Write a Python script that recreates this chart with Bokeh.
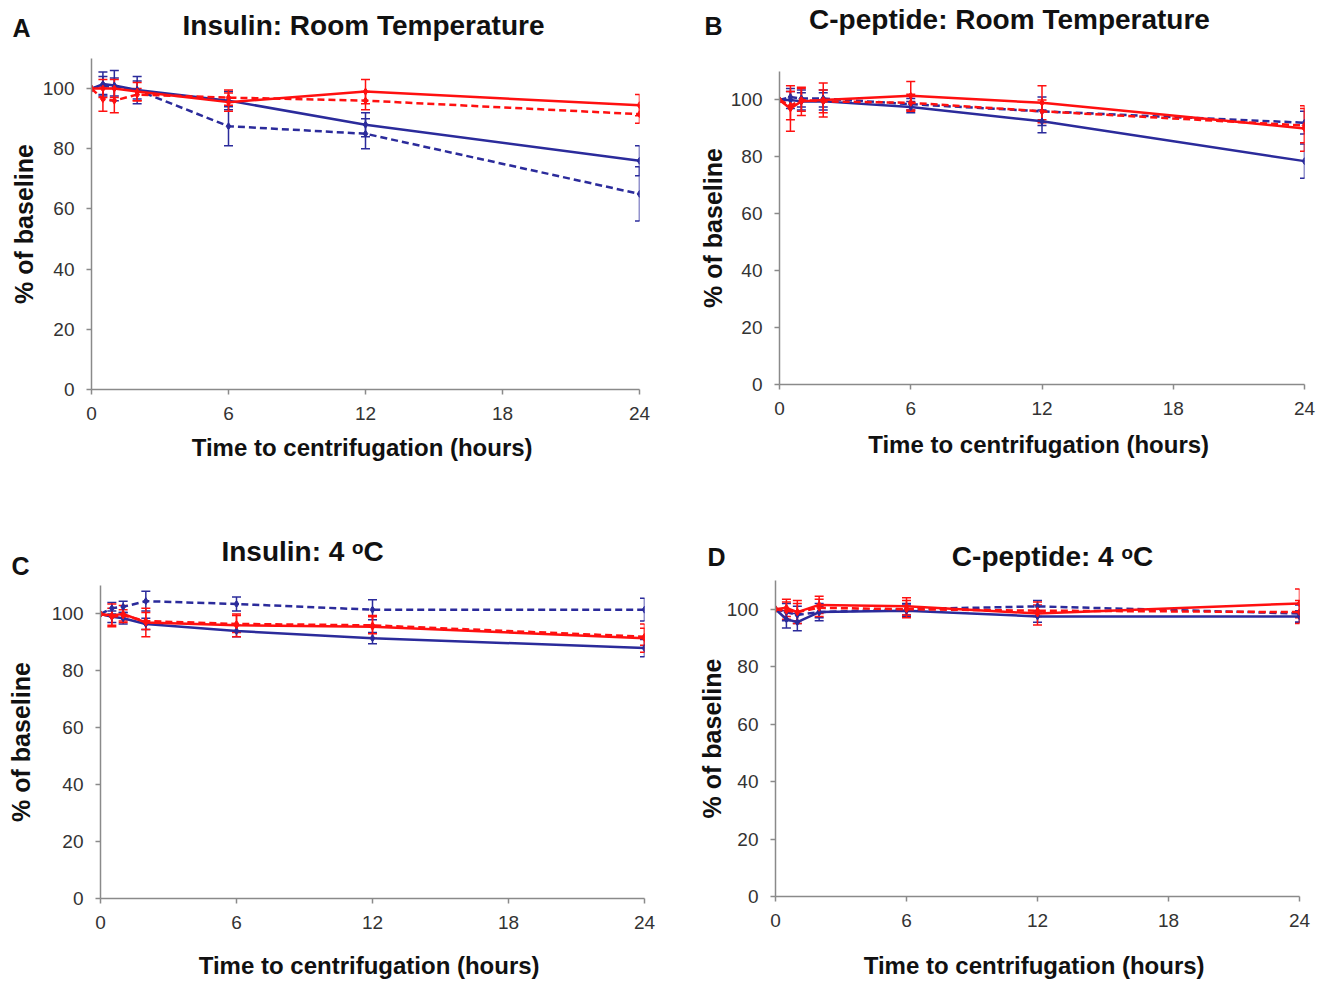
from bokeh.plotting import figure
from bokeh.layouts import column, row
from bokeh.models import ColumnDataSource, Whisker, TeeHead, Label, Range1d, FixedTicker
from bokeh.embed import file_html
from bokeh.resources import INLINE

# ---------------- data ----------------
hours = [0, 0.5, 1, 2, 6, 12, 24]
x_ticks = [0, 6, 12, 18, 24]
y_ticks = [0, 20, 40, 60, 80, 100]

# A: Insulin, room temperature
a_blue_solid = [100, 101.5, 101, 99.5, 96, 88, 76]
a_blue_solid_err = [0, 4, 5, 4.5, 3, 4, 5]
a_blue_dash = [100, 101, 100.5, 99.5, 87.5, 85, 65]
a_blue_dash_err = [0, 3, 3, 3, 6.5, 5, 9]
a_red_solid = [100, 100, 100, 99, 95.5, 99, 94.5]
a_red_solid_err = [0, 3, 3, 3, 3, 4, 3.5]
a_red_dash = [100, 96.5, 96, 98, 97, 96, 91.5]
a_red_dash_err = [0, 4, 4, 2, 2.5, 3, 3]

# B: C-peptide, room temperature
b_blue_solid = [100, 100, 99.5, 99.5, 97.5, 92.5, 78.5]
b_blue_solid_err = [0, 3, 3, 3, 2, 4, 6]
b_blue_dash = [100, 101, 100.5, 100.5, 98.5, 96, 92]
b_blue_dash_err = [0, 3, 3, 3, 2, 5, 4]
b_red_solid = [100, 97, 99.5, 100, 101.5, 99, 90]
b_red_solid_err = [0, 8, 5, 6, 5, 6, 8]
b_red_dash = [100, 98, 100, 99.5, 99, 96, 91]
b_red_dash_err = [0, 5, 4, 4, 3, 4, 6]

# C: Insulin, 4 C
c_blue_solid = [100, 99, 98.5, 96.5, 94, 91.5, 88]
c_blue_solid_err = [0, 2, 2, 2, 2, 2, 3]
c_blue_dash = [100, 102, 102.5, 104.5, 103.5, 101.5, 101.5]
c_blue_dash_err = [0, 2, 2, 3.5, 2.5, 3.5, 4]
c_red_solid = [100, 99.5, 100, 97, 96, 95.5, 91.5]
c_red_solid_err = [0, 4, 3, 5, 4, 4, 5]
c_red_dash = [100, 99, 99.5, 97.5, 96.5, 96, 92]
c_red_dash_err = [0, 3, 2, 3, 3, 3, 3]

# D: C-peptide, 4 C
d_blue_solid = [100, 96.5, 95.5, 99, 99.5, 97.5, 97.5]
d_blue_solid_err = [0, 3, 3, 2, 2, 2, 2]
d_blue_dash = [100, 99, 98, 99, 100, 101, 98.5]
d_blue_dash_err = [0, 3, 3, 3, 2, 2, 3]
d_red_solid = [100, 100.5, 99, 101.5, 101, 98.5, 102]
d_red_solid_err = [0, 3, 4, 3, 3, 4, 5]
d_red_dash = [100, 99.5, 99, 100.5, 100, 99.5, 99]
d_red_dash_err = [0, 3, 3, 3, 3, 2, 4]

titles = ["Insulin: Room Temperature", "C-peptide: Room Temperature",
          "Insulin:  4 \u1d52C", "C-peptide: 4 \u1d52C"]
letters = ["A", "B", "C", "D"]
x_label = "Time to centrifugation  (hours)"
y_label = "% of baseline"

# ---------------- style ----------------
BLUE = "#2b2b9b"
RED = "#ff1010"
AXIS = "#8a8a8a"
TXT = "#333333"
FONT = "Liberation Sans"
TOTAL_W = 1320


def make_panel(series, W, H, bl, br, bt, bb, xl_standoff, yl_standoff):
    p = figure(width=W, height=H, min_border_left=bl, min_border_right=br,
               min_border_top=bt, min_border_bottom=bb,
               x_range=Range1d(0, 24), y_range=Range1d(0, 110),
               output_backend="svg", toolbar_location=None, tools="")
    p.outline_line_color = None
    p.grid.visible = False

    for ax in (p.xaxis[0], p.yaxis[0]):
        ax.axis_line_color = AXIS
        ax.axis_line_width = 1.5
        ax.major_tick_line_color = AXIS
        ax.major_tick_line_width = 1.5
        ax.major_tick_out = 5
        ax.major_tick_in = 0
        ax.minor_tick_line_color = None
        ax.major_label_text_font = FONT
        ax.major_label_text_font_size = "19px"
        ax.major_label_text_color = TXT
        ax.axis_label_text_font = FONT
        ax.axis_label_text_font_style = "bold"
        ax.axis_label_text_color = "#111111"
    p.xaxis.axis_label_text_font_size = "24px"
    p.yaxis.axis_label_text_font_size = "25px"
    p.xaxis.ticker = FixedTicker(ticks=x_ticks)
    p.yaxis.ticker = FixedTicker(ticks=y_ticks)
    p.xaxis.major_label_standoff = 12
    p.yaxis.major_label_standoff = 12
    p.xaxis.axis_label = x_label
    p.yaxis.axis_label = y_label
    p.xaxis.axis_label_standoff = xl_standoff
    p.yaxis.axis_label_standoff = yl_standoff

    for vals, errs, color, dash in series:
        p.line(hours, vals, line_color=color, line_width=2.5, line_dash=dash)
        xs = [h for h, e in zip(hours, errs) if e > 0]
        ys = [v for v, e in zip(vals, errs) if e > 0]
        es = [e for e in errs if e > 0]
        src = ColumnDataSource(dict(x=xs, lo=[v - e for v, e in zip(ys, es)],
                                    hi=[v + e for v, e in zip(ys, es)]))
        w = Whisker(source=src, base="x", lower="lo", upper="hi",
                    line_color=color, line_width=1.5,
                    upper_head=TeeHead(size=9, line_color=color, line_width=1.5),
                    lower_head=TeeHead(size=9, line_color=color, line_width=1.5))
        p.add_layout(w)
        p.scatter(hours, vals, marker="diamond", size=7, color=color)
    return p


def make_header(H, items):
    h = figure(width=TOTAL_W, height=H, x_range=Range1d(0, TOTAL_W), y_range=Range1d(H, 0),
               min_border=0, output_backend="svg", toolbar_location=None, tools="",
               x_axis_location=None, y_axis_location=None)
    h.outline_line_color = None
    h.grid.visible = False
    for text, x, y, size in items:
        h.add_layout(Label(x=x, y=y, text=text, text_align="center",
                           text_baseline="middle", text_font=FONT,
                           text_font_size=size, text_font_style="bold",
                           text_color="#111111"))
    return h


def series_of(bs, bse, bd, bde, rs, rse, rd, rde):
    return [(bs, bse, BLUE, "solid"), (bd, bde, BLUE, "7 4"),
            (rs, rse, RED, "solid"), (rd, rde, RED, "7 4")]


# header strip 1 (0..50), row 1 (50..500), header strip 2 (500..578), row 2 (578..981)
head1 = make_header(50, [(letters[0], 21, 27, "25px"), (titles[0], 363, 25, "28px"),
                         (letters[1], 713, 25, "25px"), (titles[1], 1009, 19, "28px")])
pa = make_panel(series_of(a_blue_solid, a_blue_solid_err, a_blue_dash, a_blue_dash_err,
                          a_red_solid, a_red_solid_err, a_red_dash, a_red_dash_err),
                660, 450, 91, 21, 8, 111, 11, 2)
pb = make_panel(series_of(b_blue_solid, b_blue_solid_err, b_blue_dash, b_blue_dash_err,
                          b_red_solid, b_red_solid_err, b_red_dash, b_red_dash_err),
                660, 450, 119, 16, 21, 116, 13, 1)
head2 = make_header(78, [(letters[2], 20, 65, "25px"), (titles[2], 306, 51, "28px"),
                         (letters[3], 716, 56, "25px"), (titles[3], 1052, 56, "28px")])
pc = make_panel(series_of(c_blue_solid, c_blue_solid_err, c_blue_dash, c_blue_dash_err,
                          c_red_solid, c_red_solid_err, c_red_dash, c_red_dash_err),
                660, 403, 100, 16, 7, 82, 20, 14)
pd_ = make_panel(series_of(d_blue_solid, d_blue_solid_err, d_blue_dash, d_blue_dash_err,
                           d_red_solid, d_red_solid_err, d_red_dash, d_red_dash_err),
                 660, 403, 115, 21, 2, 84, 22, -2)

layout = column(head1, row(column(pa), column(pb)), head2, row(column(pc), column(pd_)),
                spacing=0)
open("out.html", "w").write(file_html(layout, INLINE))
